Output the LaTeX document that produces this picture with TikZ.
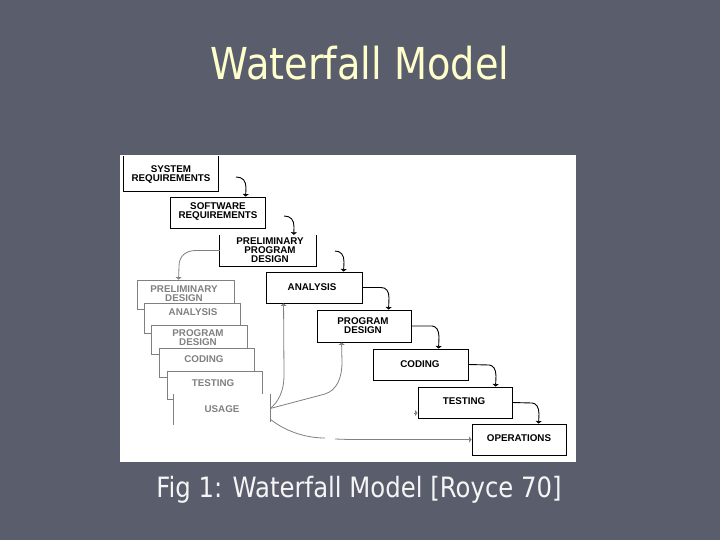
\documentclass[tikz,border=0pt]{standalone}
\usepackage{fontspec}
\setmainfont{Liberation Sans}
\newfontfamily\titlefont[FakeStretch=0.87]{DejaVu Sans}
\usetikzlibrary{arrows.meta}
\definecolor{bg}{RGB}{90,93,108}
\definecolor{ttl}{RGB}{255,255,204}
\definecolor{cap}{RGB}{245,245,245}
\definecolor{gline}{RGB}{128,128,128}
\begin{document}
\begin{tikzpicture}[x=1pt,y=-1pt,
  bbox/.style={draw=black,line width=0.9pt,fill=white,inner sep=0pt},
  obox/.style={inner sep=0pt},
  gbox/.style={draw=gline,line width=0.9pt,fill=white,inner sep=0pt},
  lbl/.style={font=\fontsize{9.8}{9.2}\selectfont\bfseries,inner sep=0pt,align=center},
  glbl/.style={lbl,text=gline},
  conn/.style={line width=0.9pt,-{Triangle[length=2.5pt,width=6pt]}},
  gconn/.style={line width=0.8pt,draw=gline,-{Triangle[length=2.5pt,width=6pt]}},
  gline/.style={line width=0.8pt,draw=gline},
]
\useasboundingbox (0,0) rectangle (720,540);
\fill[bg] (0,0) rectangle (720,540);

% title and caption
\node[anchor=base,text=ttl,font=\titlefont\fontsize{44}{44}\selectfont,inner sep=0pt] (title) at (360,80) {Waterfall Model};
\node[anchor=base,text=cap,font=\titlefont\fontsize{28}{28}\selectfont,inner sep=0pt] (caption) at (359,497) {Fig 1: Waterfall Model [Royce 70]};

% white panel
\fill[white] (120,155) rectangle (576,462);

% gray stack
\node[gbox,minimum width=97,minimum height=29] (gpd) at (185.5,294.5) {};
\node[glbl] (gpdt) at (184,293.5) {PRELIMINARY\\DESIGN};
\node[gbox,minimum width=96,minimum height=30] (gana) at (192,318) {};
\node[glbl] (ganat) at (193,312) {ANALYSIS};
\node[gbox,minimum width=96,minimum height=29] (gprog) at (199,339.5) {};
\node[glbl] (gprogt) at (198,338) {PROGRAM\\DESIGN};
\node[gbox,minimum width=95,minimum height=29] (gcod) at (206.5,362.5) {};
\node[glbl] (gcodt) at (204,359) {CODING};
\node[gbox,minimum width=95,minimum height=28] (gtst) at (214.5,385) {};
\node[glbl] (gtstt) at (213,383) {TESTING};
\node[obox,fill=white,minimum width=96,minimum height=29] (use) at (222,408.5) {};
\draw[gline] (use.north west) -- ([yshift=-1.5pt]use.south west);
\draw[gline] (use.north east) -- ([yshift=1.5pt]use.south east);
\node[glbl] (uset) at (222,409) {USAGE};

% black boxes
\node[obox,fill=white,minimum width=94,minimum height=35] (sysreq) at (171,173.5) {};
\draw[line width=0.9pt] (sysreq.north west) -- (sysreq.south west) -- (sysreq.south east) -- (sysreq.north east);
\node[lbl] (sysreqt) at (171,174.5) {SYSTEM\\REQUIREMENTS};

\node[bbox,minimum width=95,minimum height=31] (swreq) at (217.5,212.5) {};
\node[lbl] (swreqt) at (218,211.5) {SOFTWARE\\REQUIREMENTS};

\node[obox,fill=white,minimum width=96,minimum height=31] (ppd) at (268,250.5) {};
\draw[line width=0.9pt] (ppd.north west) -- (ppd.south west) -- (ppd.south east) -- (ppd.north east);
\node[lbl] (ppdt) at (270,250) {PRELIMINARY\\PROGRAM\\DESIGN};

\node[bbox,minimum width=96,minimum height=31] (ana) at (314,287.5) {};
\node[lbl] (anat) at (312,287) {ANALYSIS};

\node[bbox,minimum width=94,minimum height=32] (pd) at (364,326) {};
\node[lbl] (pdt) at (363,325.5) {PROGRAM\\DESIGN};

\node[bbox,minimum width=95,minimum height=31] (cod) at (420.5,364.5) {};
\node[lbl] (codt) at (420,364) {CODING};

\node[bbox,minimum width=94,minimum height=31] (tst) at (465,402.5) {};
\node[lbl] (tstt) at (464,401) {TESTING};

\node[bbox,minimum width=94,minimum height=31] (ops) at (519,439.5) {};
\node[lbl] (opst) at (519,438) {OPERATIONS};

% black connectors
\coordinate (s1) at (236,177);
\draw[conn] (s1) .. controls (243,177) and (246,181) .. (246,188) -- ([xshift=76pt]swreq.north west);
\coordinate (s2) at (284,216);
\draw[conn] (s2) .. controls (291,216) and (294,220) .. (294,227) -- ([xshift=74pt]ppd.north west);
\coordinate (s3) at (335,251);
\draw[conn] (s3) .. controls (341,251) and (344,255) .. (344,262) -- ([xshift=78pt]ana.north west);
\draw[conn] (ana.east) -- (381,287.5) .. controls (386,287.5) and (389,291) .. (389,298) -- ([xshift=72pt]pd.north west);
\draw[conn] (pd.east) -- (432,326) .. controls (436,326) and (439,330) .. (439,337) -- ([xshift=66pt]cod.north west);
\draw[conn] (cod.east) -- (489,365) .. controls (493,365) and (496,369) .. (496,376) -- ([xshift=78pt]tst.north west);
\draw[conn] (tst.east) -- (532,403) .. controls (536,403) and (539,407) .. (539,414) -- ([xshift=67pt]ops.north west);

% gray connectors
\draw[gconn] (ppd.west) -- (196,250.5) .. controls (186,250.5) and (179,256) .. (179,266) -- ([xshift=42pt]gpd.north west);
\draw[gconn] (use.east) .. controls (278,402) and (284,392) .. (284,375) -- ([xshift=18pt]ana.south west);
\draw[gconn] (use.east) -- (325,394) .. controls (337,390) and (342,378) .. (342,362) -- ([xshift=25pt]pd.south west);
\coordinate (u4) at (270,419);
\draw[gline] (u4) .. controls (285,431) and (305,438) .. (325,438);
\coordinate (u5) at (335,439);
\draw[gconn] (u5) -- (349,439.5) -- (ops.west);
\draw[gconn] ([xshift=-4pt,yshift=-10.5pt]tst.west) -- ([yshift=-10.5pt]tst.west);
\end{tikzpicture}
\end{document}
